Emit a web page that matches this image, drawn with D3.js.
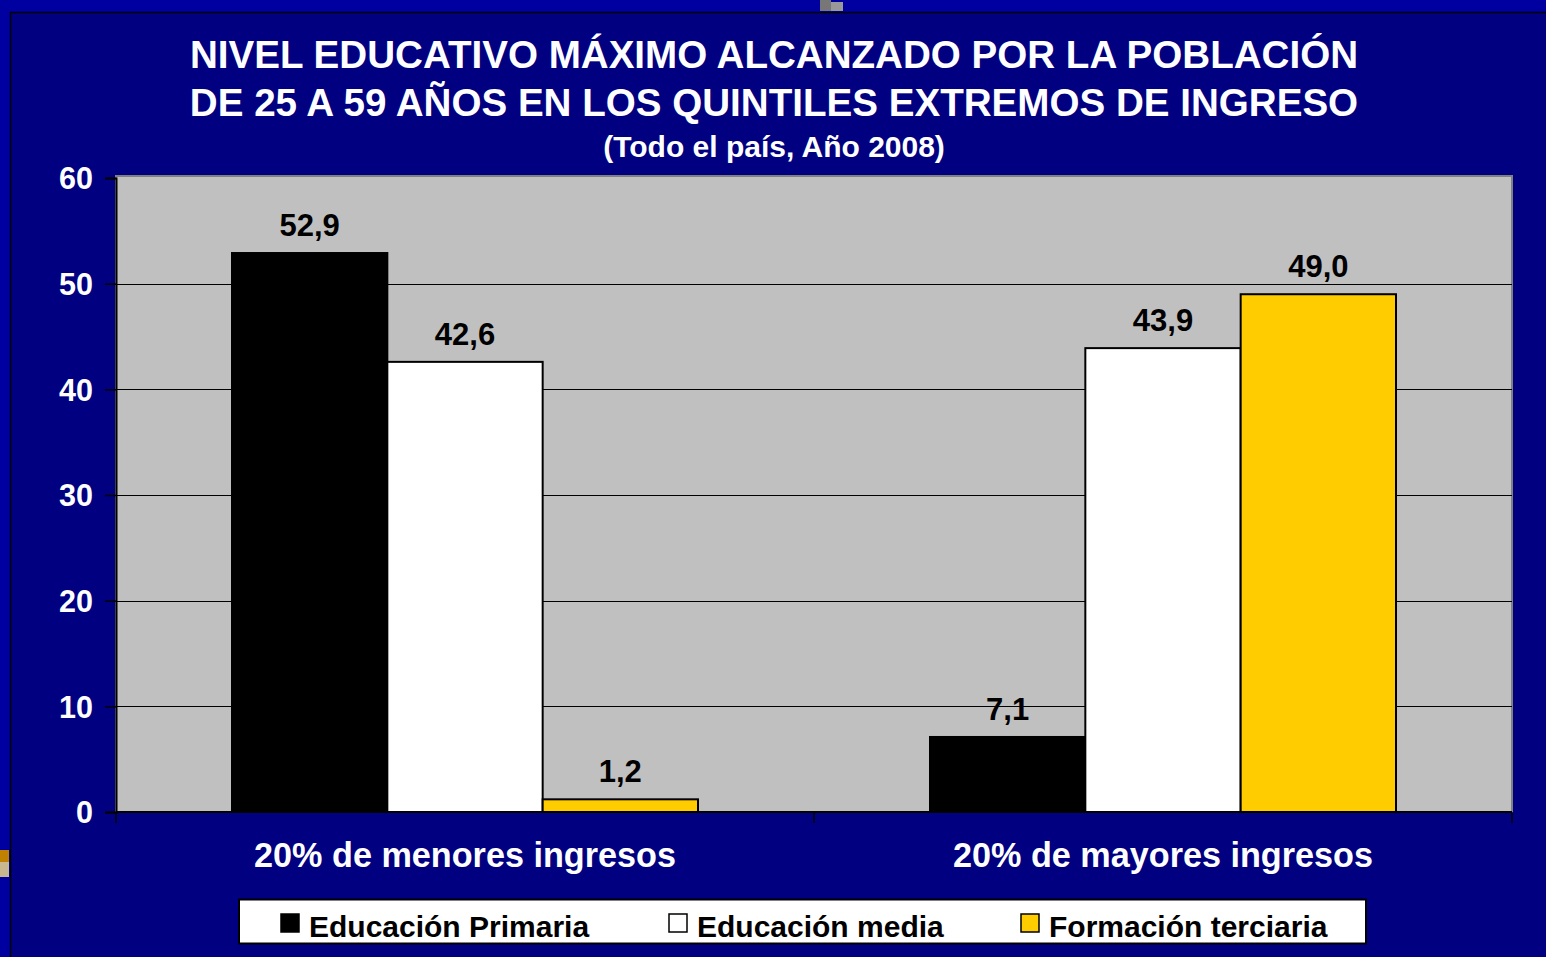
<!DOCTYPE html>
<html><head><meta charset="utf-8">
<script src="https://cdn.jsdelivr.net/npm/d3@7"></script>
<style>html,body{margin:0;padding:0;background:#0000a0;overflow:hidden}svg{display:block}</style>
</head><body>
<script>
const categories = ["20% de menores ingresos", "20% de mayores ingresos"];
const seriesNames = ["Educación Primaria", "Educación media", "Formación terciaria"];
const primaria = [52.9, 7.1];
const media = [42.6, 43.9];
const terciaria = [1.2, 49.0];
const yTicks = [0, 10, 20, 30, 40, 50, 60];
const titleLines = ["NIVEL EDUCATIVO MÁXIMO ALCANZADO POR LA POBLACIÓN", "DE 25 A 59 AÑOS EN LOS QUINTILES EXTREMOS DE INGRESO"];
const subtitle = "(Todo el país, Año 2008)";
const colors = ["#000000", "#ffffff", "#ffcc00"];

const W = 1546, H = 957;
const svg = d3.select("body").append("svg").attr("width", W).attr("height", H);
const font = "'Liberation Sans', Arial, sans-serif";

svg.append("rect").attr("width", W).attr("height", H).attr("fill", "#0000a0");
svg.append("rect").attr("x", 10.5).attr("y", 12.5).attr("width", W).attr("height", H)
  .attr("fill", "#000080").attr("stroke", "#000").attr("stroke-width", 1.5);
// small artifacts
svg.append("rect").attr("x", 820).attr("y", 0).attr("width", 11).attr("height", 11).attr("fill", "#777");
svg.append("rect").attr("x", 831).attr("y", 2).attr("width", 12).attr("height", 9).attr("fill", "#999");
svg.append("rect").attr("x", 0).attr("y", 850).attr("width", 9).attr("height", 12).attr("fill", "#c08000");
svg.append("rect").attr("x", 0).attr("y", 862).attr("width", 9).attr("height", 15).attr("fill", "#c8b890");

const x0 = 116, x1 = 1512, yTop = 176, yBot = 812;
const x = d3.scaleBand().domain(categories).range([x0, x1]).paddingInner(0).paddingOuter(0);
const y = d3.scaleLinear().domain([0, 60]).range([yBot, 178]);
const inner = d3.scaleBand().domain(seriesNames).range([0, 466]);
const data = [primaria, media, terciaria];

svg.append("rect").attr("x", x0).attr("y", yTop).attr("width", x1 - x0).attr("height", yBot - yTop)
  .attr("fill", "#c0c0c0").attr("stroke", "#808080").attr("stroke-width", 2);

const g = svg.append("g");
g.selectAll("line.grid").data(yTicks.filter(d => d > 0 && d < 60)).join("line")
  .attr("x1", x0).attr("x2", x1).attr("y1", d => Math.round(y(d)) + 0.5).attr("y2", d => Math.round(y(d)) + 0.5)
  .attr("stroke", "#000").attr("stroke-width", 1);

const bw = inner.bandwidth();
categories.forEach((c, ci) => {
  const start = x(c) + (x.bandwidth() - 466) / 2;
  seriesNames.forEach((s, si) => {
    const v = data[si][ci];
    const bx = start + inner(s);
    svg.append("rect").attr("x", bx).attr("y", y(v)).attr("width", bw).attr("height", yBot - y(v))
      .attr("fill", colors[si]).attr("stroke", "#000").attr("stroke-width", 2);
    svg.append("text").attr("x", bx + bw / 2).attr("y", y(v) - 17).attr("text-anchor", "middle")
      .attr("font-family", font).attr("font-weight", "bold").attr("font-size", 31).attr("fill", "#000")
      .text(d3.format(".1f")(v).replace(".", ","));
  });
});

// axes
const yAxis = d3.axisLeft(y).tickValues(yTicks).tickSize(11).tickPadding(12);
const ya = svg.append("g").attr("transform", `translate(${x0},0)`).call(yAxis);
ya.select(".domain").attr("stroke", "#000").attr("stroke-width", 2);
ya.selectAll(".tick line").attr("stroke", "#000").attr("stroke-width", 1.5);
ya.selectAll("text").attr("font-family", font).attr("font-weight", "bold").attr("font-size", 30.5)
  .attr("fill", "#fff").attr("dy", "0.36em");

svg.append("line").attr("x1", x0).attr("x2", x1).attr("y1", yBot).attr("y2", yBot).attr("stroke", "#000").attr("stroke-width", 2);
[x0, x0 + x.bandwidth(), x1].forEach(px => {
  svg.append("line").attr("x1", px).attr("x2", px).attr("y1", yBot).attr("y2", yBot + 11).attr("stroke", "#000").attr("stroke-width", 1.5);
});
categories.forEach(c => {
  svg.append("text").attr("x", x(c) + x.bandwidth() / 2).attr("y", 867).attr("text-anchor", "middle")
    .attr("font-family", font).attr("font-weight", "bold").attr("font-size", 34.2).attr("fill", "#fff").text(c);
});

// title
titleLines.forEach((t, i) => {
  svg.append("text").attr("x", 774).attr("y", 68 + i * 48).attr("text-anchor", "middle")
    .attr("font-family", font).attr("font-weight", "bold").attr("font-size", 38.6).attr("fill", "#fff").text(t);
});
svg.append("text").attr("x", 774).attr("y", 157).attr("text-anchor", "middle")
  .attr("font-family", font).attr("font-weight", "bold").attr("font-size", 30).attr("fill", "#fff").text(subtitle);

// legend
svg.append("rect").attr("x", 239).attr("y", 899.5).attr("width", 1127).attr("height", 44)
  .attr("fill", "#fff").attr("stroke", "#000").attr("stroke-width", 2);
const legX = [281, 669, 1021];
seriesNames.forEach((s, i) => {
  svg.append("rect").attr("x", legX[i]).attr("y", 914).attr("width", 18).attr("height", 18)
    .attr("fill", colors[i]).attr("stroke", "#000").attr("stroke-width", 1.5);
  svg.append("text").attr("x", legX[i] + 28).attr("y", 937).attr("font-family", font).attr("font-weight", "bold")
    .attr("font-size", 30).attr("fill", "#000").text(s);
});
</script>
</body></html>
